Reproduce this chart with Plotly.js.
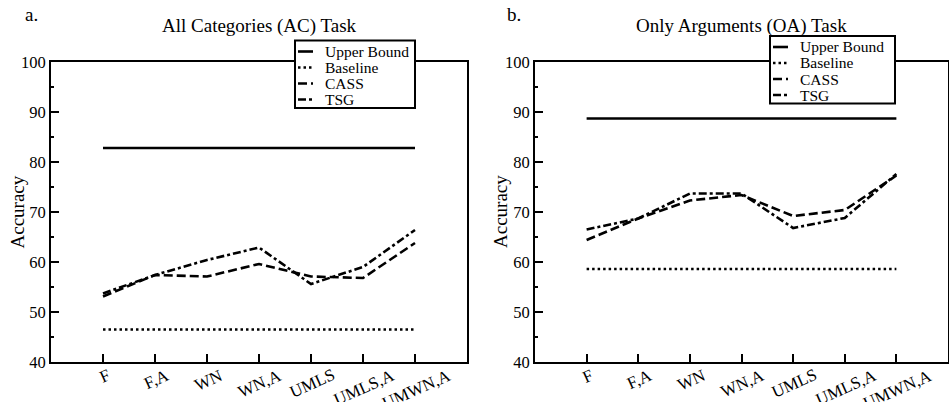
<!DOCTYPE html>
<html>
<head>
<meta charset="utf-8">
<script src="https://cdn.plot.ly/plotly-3.0.1.min.js"></script>
<style>html,body{margin:0;padding:0;background:#fff;}#chart{width:949px;height:402px;}</style>
</head>
<body>
<div id="chart"></div>
<script>
// ---- data ----
var categories = ['F', 'F,A', 'WN', 'WN,A', 'UMLS', 'UMLS,A', 'UMWN,A'];
var seriesNames = ['Upper Bound', 'Baseline', 'CASS', 'TSG'];

// a. All Categories (AC) Task
var acUpper    = [82.8, 82.8, 82.8, 82.8, 82.8, 82.8, 82.8];
var acBaseline = [46.5, 46.5, 46.5, 46.5, 46.5, 46.5, 46.5];
var acCass     = [53.1, 57.4, 57.1, 59.6, 57.1, 56.8, 63.8];
var acTsg      = [53.7, 57.4, 60.4, 62.9, 55.6, 59.0, 66.4];

// b. Only Arguments (OA) Task
var oaUpper    = [88.7, 88.7, 88.7, 88.7, 88.7, 88.7, 88.7];
var oaBaseline = [58.6, 58.6, 58.6, 58.6, 58.6, 58.6, 58.6];
var oaCass     = [64.4, 68.7, 72.3, 73.4, 69.2, 70.4, 77.3];
var oaTsg      = [66.5, 68.7, 73.7, 73.7, 66.8, 68.8, 77.6];

var panelTitles = ['All Categories (AC) Task', 'Only Arguments (OA) Task'];
var panelLetters = ['a.', 'b.'];
var yTitle = 'Accuracy';

// ---- styles ----
var FONT = 'Liberation Serif';
var dashes = ['solid', '2.5px,3px', '9px,4px', '8px,3px,3px,3px'];
var lw = 2.6;
var W = 949, H = 402, ML = 51, MR = 1, MT = 62, MB = 40;
var PW = W - ML - MR, PH = H - MT - MB;
function px2x(px) { return (px - ML) / PW; }
function px2y(py) { return (H - MB - py) / PH; }
function f(size) { return {family: FONT, size: size, color: '#000'}; }

function makeTraces(vals, xa, ya) {
  return vals.map(function (v, i) {
    return {
      x: categories, y: v, type: 'scatter', mode: 'lines',
      name: seriesNames[i], xaxis: xa, yaxis: ya, showlegend: false,
      line: {color: '#000', width: lw, dash: dashes[i]},
      hoverinfo: 'skip'
    };
  });
}

var traces = makeTraces([acUpper, acBaseline, acCass, acTsg], 'x', 'y')
  .concat(makeTraces([oaUpper, oaBaseline, oaCass, oaTsg], 'x2', 'y2'));

function xaxis(domain, anchor) {
  return {
    domain: domain, anchor: anchor, type: 'category', range: [-1, 7],
    showline: true, mirror: true, linecolor: '#000', linewidth: 2,
    ticks: 'inside', ticklen: 8, tickwidth: 2, tickcolor: '#000',
    showticklabels: false, showgrid: false, zeroline: false, fixedrange: true
  };
}
function yaxis(anchor) {
  return {
    anchor: anchor, range: [40, 100], dtick: 10, tick0: 0,
    showline: true, mirror: true, linecolor: '#000', linewidth: 2,
    ticks: 'inside', ticklen: 8, tickwidth: 2, tickcolor: '#000',
    minor: {dtick: 5, ticks: 'inside', ticklen: 3, tickwidth: 2, tickcolor: '#000', showgrid: false},
    showgrid: false, zeroline: false, fixedrange: true,
    tickfont: f(16.5)
  };
}

var d1 = [px2x(51), px2x(467)], d2 = [px2x(535), 1];

var annotations = [];
var shapes = [];
var yTitleX = [16.5, 500];
[['x', d1], ['x2', d2]].forEach(function (p, k) {
  var xref = p[0], dom = p[1];
  categories.forEach(function (c) {
    annotations.push({
      x: c, xref: xref, y: 0, yref: 'paper', yanchor: 'top', xanchor: 'center',
      yshift: -1, xshift: 1, text: c, showarrow: false, textangle: -24,
      font: f(17)
    });
  });
  annotations.push({
    x: (dom[0] + dom[1]) / 2, xref: 'paper', y: px2y(26), yref: 'paper',
    xanchor: 'center', yanchor: 'middle', text: panelTitles[k], showarrow: false,
    font: f(19)
  });
  annotations.push({
    x: px2x(yTitleX[k]), xref: 'paper', y: 0.5, yref: 'paper',
    xanchor: 'center', yanchor: 'middle', text: yTitle, showarrow: false,
    textangle: -90, font: f(19)
  });
});
annotations.push({x: px2x(31), xref: 'paper', y: px2y(15), yref: 'paper', xanchor: 'center', yanchor: 'middle',
  text: panelLetters[0], showarrow: false, font: f(19)});
annotations.push({x: px2x(514), xref: 'paper', y: px2y(15), yref: 'paper', xanchor: 'center', yanchor: 'middle',
  text: panelLetters[1], showarrow: false, font: f(19)});

// ---- legend boxes (one per panel) ----
function addLegend(left, top, width) {
  var height = 67.5;
  shapes.push({
    type: 'rect', xref: 'paper', yref: 'paper', layer: 'above',
    x0: px2x(left), x1: px2x(left + width), y0: px2y(top), y1: px2y(top + height),
    fillcolor: '#fff', line: {color: '#000', width: 2}
  });
  seriesNames.forEach(function (n, i) {
    var cy = top + 11 + i * 16;
    shapes.push({
      type: 'line', xref: 'paper', yref: 'paper', layer: 'above',
      x0: px2x(left + 3), x1: px2x(left + 18), y0: px2y(cy), y1: px2y(cy),
      line: {color: '#000', width: lw, dash: dashes[i]}
    });
    annotations.push({
      x: px2x(left + 28), xref: 'paper', y: px2y(cy), yref: 'paper',
      xanchor: 'left', yanchor: 'middle', text: n, showarrow: false,
      font: f(15.5)
    });
  });
}
addLegend(295, 40.5, 120);
addLegend(770, 36, 125);

var layout = {
  width: W, height: H,
  margin: {l: ML, r: MR, t: MT, b: MB},
  paper_bgcolor: '#fff', plot_bgcolor: '#fff',
  showlegend: false,
  xaxis: xaxis(d1, 'y'), yaxis: yaxis('x'),
  xaxis2: xaxis(d2, 'y2'), yaxis2: yaxis('x2'),
  annotations: annotations,
  shapes: shapes,
  font: {family: FONT, color: '#000'}
};

Plotly.newPlot('chart', traces, layout, {displayModeBar: false, staticPlot: true});
</script>
</body>
</html>
